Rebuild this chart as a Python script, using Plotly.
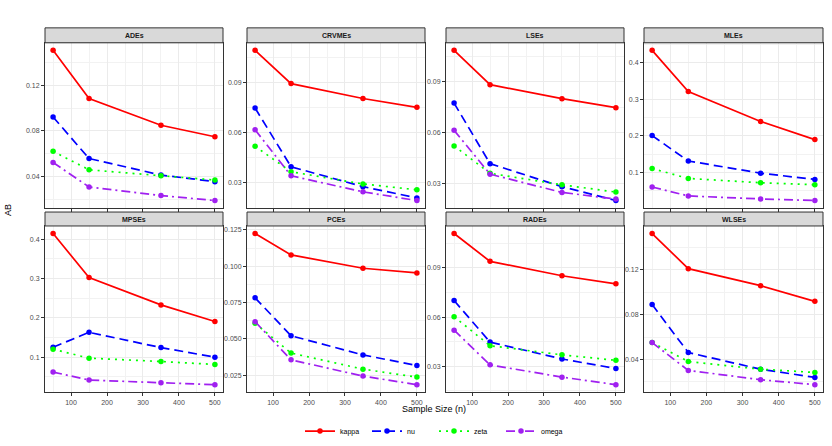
import plotly.graph_objects as go

# sample sizes and estimation methods (one facet per method)
sample_size = [50, 150, 350, 500]
methods = ["ADEs", "CRVMEs", "LSEs", "MLEs", "MPSEs", "PCEs", "RADEs", "WLSEs"]

# average bias (AB) per method, rows follow `methods`
ab_kappa = [
    [0.1507, 0.1084, 0.0849, 0.0748],
    [0.1091, 0.0892, 0.0803, 0.0750],
    [0.1087, 0.0884, 0.0801, 0.0748],
    [0.4340, 0.3216, 0.2396, 0.1900],
    [0.4143, 0.3025, 0.2329, 0.1907],
    [0.1225, 0.1078, 0.0986, 0.0954],
    [0.1110, 0.0940, 0.0852, 0.0803],
    [0.1522, 0.1209, 0.1058, 0.0918],
]
ab_nu = [
    [0.0922, 0.0557, 0.0412, 0.0354],
    [0.0746, 0.0395, 0.0276, 0.0209],
    [0.0775, 0.0417, 0.0281, 0.0199],
    [0.2009, 0.1315, 0.0982, 0.0811],
    [0.1253, 0.1632, 0.1244, 0.1000],
    [0.0782, 0.0521, 0.0389, 0.0316],
    [0.0701, 0.0447, 0.0344, 0.0286],
    [0.0889, 0.0462, 0.0314, 0.0241],
]
ab_zeta = [
    [0.0620, 0.0458, 0.0406, 0.0368],
    [0.0517, 0.0365, 0.0292, 0.0257],
    [0.0522, 0.0360, 0.0292, 0.0249],
    [0.1108, 0.0838, 0.0721, 0.0667],
    [0.1202, 0.0975, 0.0890, 0.0815],
    [0.0607, 0.0402, 0.0291, 0.0236],
    [0.0602, 0.0425, 0.0369, 0.0336],
    [0.0551, 0.0382, 0.0314, 0.0285],
]
ab_omega = [
    [0.0522, 0.0307, 0.0232, 0.0188],
    [0.0616, 0.0341, 0.0245, 0.0193],
    [0.0614, 0.0355, 0.0247, 0.0208],
    [0.0604, 0.0360, 0.0279, 0.0234],
    [0.0621, 0.0419, 0.0351, 0.0301],
    [0.0618, 0.0355, 0.0243, 0.0184],
    [0.0520, 0.0308, 0.0233, 0.0187],
    [0.0551, 0.0303, 0.0220, 0.0176],
]

# y tick step and label format per facet
y_dtick = [0.04, 0.03, 0.03, 0.1, 0.1, 0.025, 0.03, 0.04]
y_fmt = [".2f", ".2f", ".2f", ".1f", ".1f", ".3f", ".2f", ".2f"]

params = [
    ("kappa", ab_kappa, "#FF0000", "solid"),
    ("nu", ab_nu, "#0000FF", "9px,5px"),
    ("zeta", ab_zeta, "#00FF00", "2px,5px"),
    ("omega", ab_omega, "#A020F0", "9px,4px,2px,4px"),
]

W, H = 832, 446
col_px = [(45, 223), (247, 425), (446, 624), (644, 823)]
row_px = [(28, 43, 209), (213, 227, 394)]  # strip top, plot top, plot bottom

FONT = "Liberation Sans, Arial, sans-serif"
fig = go.Figure()
shapes, annotations = [], []

for i, m in enumerate(methods):
    r, c = divmod(i, 4)
    x0, x1 = col_px[c]
    st, pt, pb = row_px[r]
    ax = "" if i == 0 else str(i + 1)

    for name, vals, color, dash in params:
        fig.add_trace(go.Scatter(
            x=sample_size, y=vals[i], mode="lines+markers", name=name,
            legendgroup=name, showlegend=(i == 0),
            line=dict(color=color, width=1.7, dash=dash),
            marker=dict(color=color, size=5.5),
            xaxis="x" + ax, yaxis="y" + ax,
        ))

    allv = [v for _, vals, _, _ in params for v in vals[i]]
    lo, hi = min(allv), max(allv)
    pad = (hi - lo) * 0.05

    common = dict(
        showline=True, mirror=True, linecolor="#333333", linewidth=1,
        gridcolor="#EBEBEB", gridwidth=1, zeroline=False,
        ticks="outside", ticklen=3, tickcolor="#333333",
        tickfont=dict(size=7, color="#4D4D4D", family=FONT),
    )
    fig.layout["xaxis" + ax] = dict(
        common, domain=[x0 / W, x1 / W], anchor="y" + ax,
        range=[27.5, 522.5], tick0=0, dtick=100,
        minor=dict(showgrid=True, gridcolor="#F2F2F2", dtick=50, tick0=0),
        showticklabels=(r == 1),
    )
    fig.layout["yaxis" + ax] = dict(
        common, domain=[1 - pb / H, 1 - pt / H], anchor="x" + ax,
        range=[lo - pad, hi + pad], tick0=0, dtick=y_dtick[i],
        tickformat=y_fmt[i],
        minor=dict(showgrid=True, gridcolor="#F2F2F2", dtick=y_dtick[i] / 2, tick0=0),
    )

    shapes.append(dict(
        type="rect", xref="paper", yref="paper",
        x0=x0 / W, x1=x1 / W, y0=1 - pt / H, y1=1 - st / H,
        fillcolor="#D9D9D9", line=dict(color="#333333", width=1),
    ))
    annotations.append(dict(
        text="<b>%s</b>" % m, xref="paper", yref="paper", showarrow=False,
        x=(x0 + x1) / 2 / W, y=1 - (st + pt) / 2 / H,
        xanchor="center", yanchor="middle",
        font=dict(size=7, color="#1A1A1A", family=FONT),
    ))

annotations.append(dict(
    text="AB", xref="paper", yref="paper", showarrow=False, textangle=-90,
    x=8 / W, y=1 - 211 / H, xanchor="center", yanchor="middle",
    font=dict(size=9, color="#000000", family=FONT),
))
annotations.append(dict(
    text="Sample Size (n)", xref="paper", yref="paper", showarrow=False,
    x=434 / W, y=1 - 411 / H, xanchor="center", yanchor="middle",
    font=dict(size=9, color="#000000", family=FONT),
))

fig.update_layout(
    width=W, height=H, margin=dict(l=0, r=0, t=0, b=0),
    paper_bgcolor="white", plot_bgcolor="white",
    shapes=shapes, annotations=annotations,
    showlegend=True,
    legend=dict(
        orientation="h", x=434 / W, xanchor="center", y=1 - 433 / H, yanchor="middle",
        font=dict(size=7, color="#000000", family=FONT), itemwidth=30,
        entrywidth=22, bgcolor="rgba(0,0,0,0)",
    ),
)

fig.write_html(
    "out.html",
    config={"displayModeBar": False},
    post_script="document.body.style.margin='0';document.body.style.overflow='hidden';",
)
